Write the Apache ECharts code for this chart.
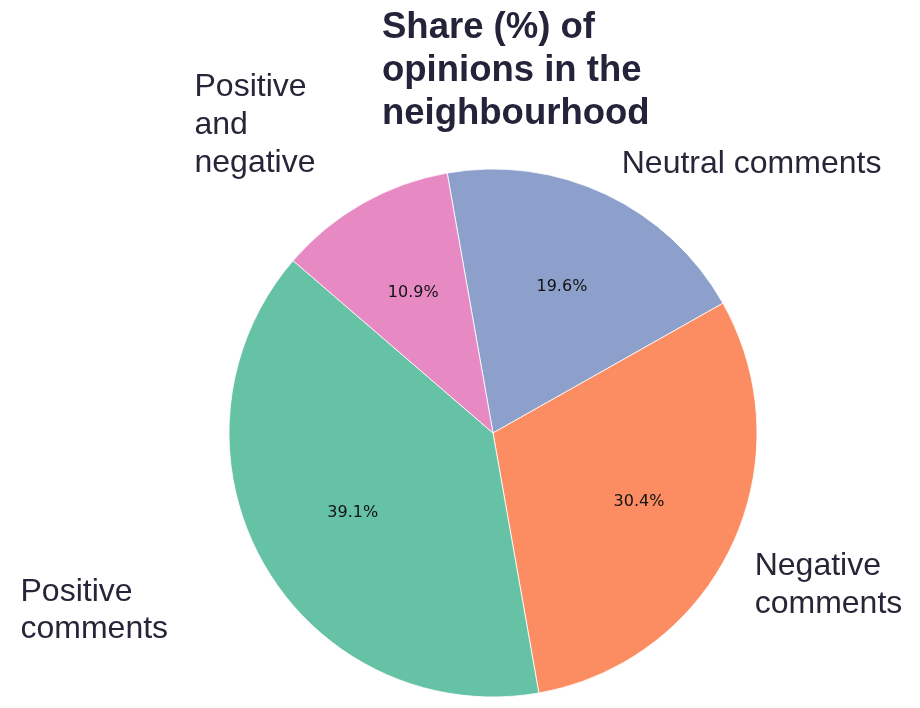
<!DOCTYPE html>
<html>
<head>
<meta charset="utf-8">
<script src="https://cdn.jsdelivr.net/npm/echarts@6/dist/echarts.min.js"></script>
<style>
html,body{margin:0;padding:0;background:#fff;}
#chart{width:920px;height:708px;}
</style>
</head>
<body>
<div id="chart"></div>
<script>
// ---- data ----
const categories = ['Neutral comments', 'Negative comments', 'Positive comments', 'Positive and negative'];
const shares = [19.6, 30.4, 39.1, 10.9];
const labelTexts = ['Neutral comments', 'Negative\ncomments', 'Positive\ncomments', 'Positive\nand\nnegative'];
const sliceColors = ['#8da0cb', '#fc8d62', '#66c2a5', '#e78ac3'];
const titleText = 'Share (%) of\nopinions in the\nneighbourhood';

// ---- layout tweaks (label nudges from default outer anchor) ----
const labelNudge = [[16, -30], [23, 39], [-243, 47], [-168, -78]];
const labelLineHeights = [38, 38, 37, 38];

const center = [493, 433];
const R = 264;
const textColor = '#262638';

const chart = echarts.init(document.getElementById('chart'), null, {renderer: 'canvas'});

const outerData = categories.map((c, i) => ({
  name: c,
  value: shares[i],
  itemStyle: {color: sliceColors[i]},
  label: {lineHeight: labelLineHeights[i]}
}));
const innerData = categories.map((c, i) => ({name: c, value: shares[i]}));

chart.setOption({
  animation: false,
  backgroundColor: '#ffffff',
  title: {
    text: titleText,
    left: 377,
    top: 1,
    textStyle: {
      fontFamily: 'Liberation Sans, Arial, sans-serif',
      fontWeight: 'bold',
      fontSize: 36.5,
      lineHeight: 43,
      color: '#23233a'
    }
  },
  series: [
    {
      type: 'pie',
      center: center,
      radius: [0, R],
      startAngle: 100,
      clockwise: true,
      avoidLabelOverlap: false,
      silent: true,
      itemStyle: {borderColor: '#ffffff', borderWidth: 0.8},
      data: outerData,
      label: {
        show: true,
        position: 'outside',
        alignTo: 'none',
        distanceToLabelLine: 0,
        bleedMargin: 0,
        overflow: 'none',
        formatter: p => labelTexts[p.dataIndex],
        fontFamily: 'Liberation Sans, Arial, sans-serif',
        fontSize: 32,
        color: textColor
      },
      labelLine: {show: false, length: 0, length2: 0},
      labelLayout: p => ({
        dx: labelNudge[p.dataIndex][0],
        dy: labelNudge[p.dataIndex][1],
        align: 'left',
        verticalAlign: 'middle'
      })
    },
    {
      type: 'pie',
      center: center,
      radius: [R * 0.2, R],
      startAngle: 100,
      clockwise: true,
      silent: true,
      itemStyle: {color: 'rgba(0,0,0,0)', borderWidth: 0},
      data: innerData,
      label: {
        show: true,
        position: 'inside',
        formatter: p => p.value.toFixed(1) + '%',
        fontFamily: 'DejaVu Sans, sans-serif',
        fontSize: 16,
        color: '#111111'
      },
      labelLine: {show: false}
    }
  ]
});
</script>
</body>
</html>
